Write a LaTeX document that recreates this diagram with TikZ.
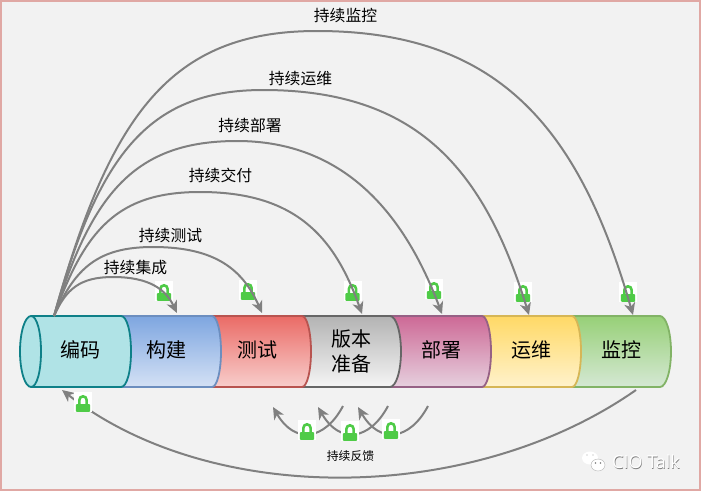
\documentclass[tikz,border=0pt]{standalone}
\usepackage{fontspec}
\setmainfont{Noto Sans CJK SC}
\setsansfont{Open Sans}
\usetikzlibrary{arrows.meta}
\definecolor{bggray}{HTML}{F2F2F2}
\definecolor{edgepink}{HTML}{E0A8A4}
\definecolor{linegray}{HTML}{808080}
\definecolor{lockgreen}{HTML}{4FCB47}
\tikzstyle{codeseg} = [draw={rgb,255:red,14;green,128;blue,136}, fill={rgb,255:red,176;green,227;blue,230}, line width=1.8pt]
\tikzstyle{buildseg} = [draw={rgb,255:red,108;green,142;blue,191}, top color={rgb,255:red,126;green,166;blue,224}, bottom color={rgb,255:red,212;green,225;blue,245}, line width=1.8pt]
\tikzstyle{testseg} = [draw={rgb,255:red,184;green,84;blue,80}, top color={rgb,255:red,234;green,107;blue,102}, bottom color={rgb,255:red,248;green,206;blue,204}, line width=1.8pt]
\tikzstyle{releaseseg} = [draw={rgb,255:red,102;green,102;blue,102}, top color={rgb,255:red,179;green,179;blue,179}, bottom color={rgb,255:red,245;green,245;blue,245}, line width=1.8pt]
\tikzstyle{deployseg} = [draw={rgb,255:red,150;green,97;blue,133}, top color={rgb,255:red,205;green,105;blue,150}, bottom color={rgb,255:red,230;green,208;blue,222}, line width=1.8pt]
\tikzstyle{opsseg} = [draw={rgb,255:red,214;green,182;blue,86}, top color={rgb,255:red,255;green,217;blue,102}, bottom color={rgb,255:red,255;green,242;blue,204}, line width=1.8pt]
\tikzstyle{monitorseg} = [draw={rgb,255:red,130;green,179;blue,102}, top color={rgb,255:red,151;green,208;blue,119}, bottom color={rgb,255:red,213;green,232;blue,212}, line width=1.8pt]
\tikzstyle{seglabel} = [text=black, font=\fontsize{20}{25}\selectfont, align=center, inner sep=0pt]
\tikzstyle{arclabel} = [text=black, font=\fontsize{15.8}{18}\selectfont, inner sep=0pt]
\tikzstyle{arrow} = [draw=linegray, line width=2pt, -{Stealth[length=12pt,width=11pt,inset=3.5pt]}]
\tikzstyle{marktext} = [font=\sffamily\fontsize{18}{20}\selectfont, inner sep=0pt]
\tikzset{lockicon/.pic={
	\fill[white] (-9,-10) rectangle (9,10);
	\draw[lockgreen, line width=2.6pt] (-3.6,3) -- (-3.6,-2.1) arc[start angle=180, end angle=0, radius=3.6pt] -- (3.6,3);
	\fill[lockgreen, rounded corners=1pt] (-7.2,2) rectangle (7.2,9.8);
}}
\begin{document}
\begin{tikzpicture}[x=1pt,y=-1pt]
	\useasboundingbox (0,0) rectangle (701,491);
	\fill[bggray] (0,0) rectangle (701,491);
	\draw[edgepink, line width=1.5pt] (0.75,0.75) rectangle (699.75,489.75);
	
	% Silinder, dari kanan ke kiri
	\draw[monitorseg] (565,316) -- (660,316) .. controls (666,316) and (671,332) .. (671,351.5) .. controls (671,371) and (666,387) .. (660,387) -- (565,387) -- cycle;
	\draw[opsseg] (475,316) -- (572,316) .. controls (577,316) and (581,332) .. (581,351.5) .. controls (581,371) and (577,387) .. (572,387) -- (475,387) -- cycle;
	\draw[deployseg] (385,316) -- (482,316) .. controls (487,316) and (491,332) .. (491,351.5) .. controls (491,371) and (487,387) .. (482,387) -- (385,387) -- cycle;
	\draw[releaseseg] (295,316) -- (390,316) .. controls (396,316) and (401,332) .. (401,351.5) .. controls (401,371) and (396,387) .. (390,387) -- (295,387) -- cycle;
	\draw[testseg] (205,316) -- (302,316) .. controls (307,316) and (311,332) .. (311,351.5) .. controls (311,371) and (307,387) .. (302,387) -- (205,387) -- cycle;
	\draw[buildseg] (115,316) -- (212,316) .. controls (217,316) and (221,332) .. (221,351.5) .. controls (221,371) and (217,387) .. (212,387) -- (115,387) -- cycle;
	\draw[codeseg] (31,316) -- (121,316) .. controls (127,316) and (131,332) .. (131,351.5) .. controls (131,371) and (127,387) .. (121,387) -- (31,387) .. controls (25,387) and (20,371) .. (20,351.5) .. controls (20,332) and (25,316) .. (31,316) -- cycle;
	\draw[codeseg] (31,316) .. controls (37,316) and (41,332) .. (41,351.5) .. controls (41,371) and (37,387) .. (31,387);
	
	% Label silinder
	\node (code) [seglabel] at (80.5,350) {编码};
	\node (build) [seglabel] at (166,350) {构建};
	\node (test) [seglabel] at (257,350) {测试};
	\node (release) [seglabel] at (351,351) {版本\\准备};
	\node (deploy) [seglabel] at (441,350) {部署};
	\node (ops) [seglabel] at (531,350) {运维};
	\node (monitor) [seglabel] at (621,350) {监控};
	
	% Titik ujung panah
	\coordinate (hub) at (54,316);
	\coordinate (ci_top) at (113,277);
	\coordinate (ct_top) at (153,247);
	\coordinate (cd_top) at (200,192);
	\coordinate (cdeploy_top) at (237,141);
	\coordinate (cops_top) at (263,90);
	\coordinate (cmon_top) at (317,31);
	\coordinate (build_in) at (177,313);
	\coordinate (test_in) at (262,313);
	\coordinate (release_in) at (362,314);
	\coordinate (deploy_in) at (442,314);
	\coordinate (ops_in) at (529,315);
	\coordinate (monitor_in) at (633,315);
	\coordinate (monitor_out) at (636,390);
	\coordinate (code_in) at (62,390);
	\coordinate (fb_a) at (343,406);
	\coordinate (fb_a_in) at (273,407);
	\coordinate (fb_b) at (388,406);
	\coordinate (fb_b_in) at (318,407);
	\coordinate (fb_c) at (428,406);
	\coordinate (fb_c_in) at (358,407);
	
	% Gembok atas
	\pic (lock_build) at (164,291) {lockicon};
	\pic (lock_test) at (248,290) {lockicon};
	\pic (lock_release) at (352.5,291) {lockicon};
	\pic (lock_deploy) at (434,289) {lockicon};
	\pic (lock_ops) at (523,292) {lockicon};
	\pic (lock_monitor) at (628,292) {lockicon};
	
	% Panah atas
	\draw [arrow] (hub) .. controls (66,289) and (80,277) .. (ci_top) .. controls (150,277) and (166,290) .. (build_in);
	\draw [arrow] (hub) .. controls (75,268) and (98,247) .. (ct_top) .. controls (216,247) and (243,270) .. (test_in);
	\draw [arrow] (hub) .. controls (85,229) and (118,192) .. (cd_top) .. controls (294,192) and (334,235) .. (release_in);
	\draw [arrow] (hub) .. controls (92,193) and (135,141) .. (cdeploy_top) .. controls (345,141) and (405,215) .. (deploy_in);
	\draw [arrow] (hub) .. controls (98,158) and (146,90) .. (cops_top) .. controls (417,90) and (484,169) .. (ops_in);
	\draw [arrow] (hub) .. controls (110,115) and (170,31) .. (cmon_top) .. controls (500,31) and (580,130) .. (monitor_in);
	
	% Panah bawah
	\draw [arrow] (fb_a) .. controls (325,440) and (295,445) .. (fb_a_in);
	\draw [arrow] (fb_b) .. controls (370,440) and (340,445) .. (fb_b_in);
	\draw [arrow] (fb_c) .. controls (410,440) and (380,445) .. (fb_c_in);
	\draw [arrow] (monitor_out) .. controls (470,506) and (210,506) .. (code_in);
	
	% Gembok bawah
	\pic (lock_code) at (83,402) {lockicon};
	\pic (lock_fb_a) at (307,430) {lockicon};
	\pic (lock_fb_b) at (350,431) {lockicon};
	\pic (lock_fb_c) at (391,429) {lockicon};
	
	% Label panah
	\node (ci) [arclabel] at (135.5,268) {持续集成};
	\node (ct) [arclabel] at (170.5,235.5) {持续测试};
	\node (cd) [arclabel] at (220.5,175.5) {持续交付};
	\node (cdeploy) [arclabel] at (250,125.5) {持续部署};
	\node (cops) [arclabel] at (300.5,78.5) {持续运维};
	\node (cmon) [arclabel] at (345.5,15.5) {持续监控};
	\node (cfb) [text=black, font=\fontsize{11.8}{14}\selectfont, inner sep=0pt] at (350.5,456) {持续反馈};
	
	% Tanda air
	\fill[white] (590,458) ellipse (8 and 6.5);
	\filldraw[white, draw=gray!60, line width=0.4pt] (598,465) ellipse (7 and 6);
	\fill[gray] (595.5,463) circle (0.8pt);
	\fill[gray] (600.5,463) circle (0.8pt);
	\fill[gray!70] (587,455) circle (0.7pt);
	\fill[gray!70] (593,455) circle (0.7pt);
	\node (mark_shadow) [marktext, text=gray] at (646.6,462.6) {CIO Talk};
	\node (mark) [marktext, text=white] at (646,462) {CIO Talk};
\end{tikzpicture}
\end{document}
